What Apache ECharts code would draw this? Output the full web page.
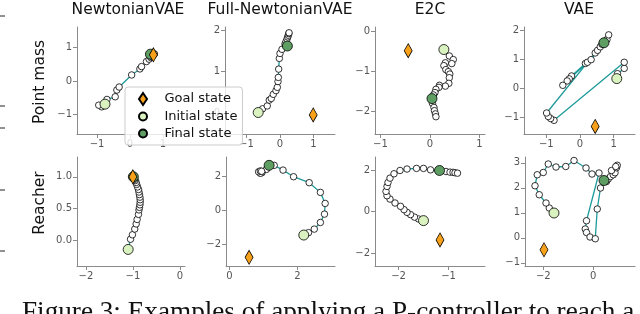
<!DOCTYPE html>
<html><head><meta charset="utf-8">
<script src="https://cdn.jsdelivr.net/npm/echarts@6/dist/echarts.min.js"></script>
<style>html,body{margin:0;padding:0;background:#fff}#c{width:640px;height:314px}</style>
</head><body><div id="c"></div>
<script>
// ---------- text ----------
const panelTitles = ['NewtonianVAE', 'Full-NewtonianVAE', 'E2C', 'VAE'];
const rowLabels = ['Point mass', 'Reacher'];
const legendNames = ['Goal state', 'Initial state', 'Final state'];
const captionText = 'Figure 3: Examples of applying a P-controller to reach a goal state.';

// ---------- Point mass ----------
const pmNewtonianTraj = [[-0.76,-0.69],[-0.86,-0.77],[-0.95,-0.72],[-0.70,-0.55],[-0.45,-0.47],[-0.40,-0.27],[-0.33,-0.18],[0.05,0.18],[0.30,0.36],[0.35,0.43],[0.50,0.58],[0.58,0.65],[0.63,0.70],[0.66,0.73],[0.68,0.75],[0.70,0.77],[0.72,0.79],[0.73,0.80],[0.74,0.81]];
const pmNewtonianGoal = [0.71, 0.78];
const pmNewtonianInit = [-0.76, -0.69];
const pmNewtonianFinal = [0.62, 0.80];
const pmNewtonianXTicks = [-1, 0, 1];
const pmNewtonianYTicks = [-1, 0, 1];

const pmFullTraj = [[-0.65,0.01],[-0.52,0.10],[-0.38,0.17],[-0.32,0.31],[-0.26,0.35],[-0.20,0.45],[-0.12,0.54],[-0.08,0.62],[-0.06,0.76],[-0.05,0.86],[-0.04,1.06],[-0.02,1.32],[0.00,1.44],[0.06,1.54],[0.15,1.67],[0.18,1.73],[0.21,1.79],[0.23,1.84],[0.25,1.88],[0.26,1.92],[0.27,1.94]];
const pmFullGoal = [0.99, -0.05];
const pmFullInit = [-0.65, 0.01];
const pmFullFinal = [0.22, 1.62];
const pmFullXTicks = [-1, 0, 1];
const pmFullYTicks = [0, 1, 2];

const pmE2cTraj = [[0.28,-0.46],[0.39,-0.62],[0.47,-0.71],[0.44,-0.81],[0.31,-0.79],[0.28,-0.86],[0.32,-0.96],[0.37,-1.01],[0.40,-1.07],[0.39,-1.16],[0.38,-1.30],[0.31,-1.37],[0.19,-1.35],[0.18,-1.40],[0.12,-1.45],[0.10,-1.53],[0.07,-1.59],[0.05,-1.68],[0.05,-1.80],[0.08,-1.90],[0.09,-1.98],[0.11,-2.06],[0.12,-2.13]];
const pmE2cGoal = [-0.44, -0.49];
const pmE2cInit = [0.28, -0.46];
const pmE2cFinal = [0.04, -1.68];
const pmE2cXTicks = [-1, 0, 1];
const pmE2cYTicks = [-2, -1, 0];

const pmVaeTraj = [[1.09,0.33],[1.11,0.50],[1.31,0.68],[1.31,0.89],[-0.77,-1.10],[-0.87,-1.04],[-0.94,-0.97],[-0.99,-0.85],[0.45,1.21],[0.16,0.85],[-0.25,0.42],[-0.32,0.32],[-0.38,0.25],[-0.51,0.10],[0.22,0.89],[0.33,0.98],[0.52,1.30],[0.60,1.42],[0.65,1.51],[0.80,1.67],[0.85,1.83]];
const pmVaeGoal = [0.45, -1.31];
const pmVaeInit = [1.09, 0.33];
const pmVaeFinal = [0.71, 1.56];
const pmVaeXTicks = [-1, 0, 1];
const pmVaeYTicks = [-1, 0, 1, 2];

// ---------- Reacher ----------
const reNewtonianTraj = [[-1.10,-0.14],[-1.05,0.02],[-1.01,0.09],[-0.96,0.18],[-0.93,0.26],[-0.91,0.33],[-0.88,0.41],[-0.87,0.48],[-0.86,0.52],[-0.85,0.56],[-0.845,0.60],[-0.845,0.64],[-0.85,0.68],[-0.86,0.72],[-0.87,0.76],[-0.88,0.80],[-0.90,0.84],[-0.92,0.88],[-0.93,0.91],[-0.95,0.94],[-0.96,0.96],[-0.97,0.98]];
const reNewtonianGoal = [-1.00, 1.00];
const reNewtonianInit = [-1.10, -0.14];
const reNewtonianFinal = [-0.99, 1.00];
const reNewtonianXTicks = [-2, -1, 0];
const reNewtonianYTicks = [0, 0.5, 1.0];

const reFullTraj = [[2.19,-1.47],[2.33,-1.33],[2.50,-1.12],[2.68,-0.73],[2.80,-0.24],[2.82,0.39],[2.68,1.04],[2.35,1.61],[1.89,1.96],[1.58,2.35],[1.32,2.63],[1.09,2.39],[0.96,2.20],[0.91,2.16],[0.86,2.25],[0.91,2.30],[0.95,2.28]];
const reFullGoal = [0.58, -2.78];
const reFullInit = [2.19, -1.47];
const reFullFinal = [1.17, 2.63];
const reFullXTicks = [0, 2];
const reFullYTicks = [-2, 0, 2];

const reE2cTraj = [[-1.50,-0.43],[-1.60,-0.35],[-1.68,-0.26],[-1.76,-0.14],[-1.83,-0.03],[-1.89,0.10],[-1.96,0.26],[-2.07,0.42],[-2.17,0.61],[-2.23,0.77],[-2.25,0.98],[-2.23,1.22],[-2.21,1.41],[-2.17,1.62],[-2.09,1.83],[-1.97,1.99],[-1.83,2.06],[-1.64,2.09],[-1.50,2.09],[-1.36,2.02],[-1.18,1.99],[-1.05,1.94],[-0.97,1.91],[-0.91,1.90],[-0.87,1.88],[-0.82,1.86]];
const reE2cGoal = [-1.17, -1.36];
const reE2cInit = [-1.50, -0.43];
const reE2cFinal = [-1.18, 1.99];
const reE2cXTicks = [-2, -1];
const reE2cYTicks = [-2, 0, 2];

const reVaeTraj = [[-1.57,0.99],[-1.76,1.19],[-1.89,1.39],[-2.16,1.72],[-2.33,2.08],[-2.24,2.52],[-2.00,2.61],[-1.80,2.95],[-1.49,2.83],[-1.10,2.85],[-0.77,3.09],[-0.29,2.79],[-0.05,2.55],[0.23,2.59],[-0.27,0.68],[-0.32,0.35],[-0.27,0.21],[-0.13,0.03],[0.08,-0.04],[0.16,1.15],[0.29,1.99],[0.43,2.29],[0.53,2.25],[0.60,2.35],[0.69,2.45],[0.80,2.52],[0.87,2.60],[0.73,2.69],[0.93,2.80],[0.96,2.90],[0.90,2.85]];
const reVaeGoal = [-1.97, -0.48];
const reVaeInit = [-1.57, 0.99];
const reVaeFinal = [0.43, 2.29];
const reVaeXTicks = [-2, 0];
const reVaeYTicks = [-1, 0, 1, 2, 3];

// ---------- assembly ----------
const panels = [
  {traj: pmNewtonianTraj, goal: pmNewtonianGoal, init: pmNewtonianInit, fin: pmNewtonianFinal, xt: pmNewtonianXTicks, yt: pmNewtonianYTicks},
  {traj: pmFullTraj, goal: pmFullGoal, init: pmFullInit, fin: pmFullFinal, xt: pmFullXTicks, yt: pmFullYTicks},
  {traj: pmE2cTraj, goal: pmE2cGoal, init: pmE2cInit, fin: pmE2cFinal, xt: pmE2cXTicks, yt: pmE2cYTicks},
  {traj: pmVaeTraj, goal: pmVaeGoal, init: pmVaeInit, fin: pmVaeFinal, xt: pmVaeXTicks, yt: pmVaeYTicks},
  {traj: reNewtonianTraj, goal: reNewtonianGoal, init: reNewtonianInit, fin: reNewtonianFinal, xt: reNewtonianXTicks, yt: reNewtonianYTicks, yDec: 1},
  {traj: reFullTraj, goal: reFullGoal, init: reFullInit, fin: reFullFinal, xt: reFullXTicks, yt: reFullYTicks},
  {traj: reE2cTraj, goal: reE2cGoal, init: reE2cInit, fin: reE2cFinal, xt: reE2cXTicks, yt: reE2cYTicks},
  {traj: reVaeTraj, goal: reVaeGoal, init: reVaeInit, fin: reVaeFinal, xt: reVaeXTicks, yt: reVaeYTicks}
];

// layout (pixels) and visible axis ranges
const layout = [
  {left: 77, top: 27, width: 108, height: 107, xr: [-1.61, 1.67], yr: [-1.58, 1.61]},
  {left: 225, top: 27, width: 110, height: 107, xr: [-1.64, 1.64], yr: [-0.51, 2.08]},
  {left: 375, top: 27, width: 110, height: 107, xr: [-1.11, 1.11], yr: [-2.56, 0.10]},
  {left: 524, top: 27, width: 111, height: 107, xr: [-1.66, 1.63], yr: [-1.57, 2.10]},
  {left: 77, top: 157, width: 108, height: 109, xr: [-2.19, 0.11], yr: [-0.40, 1.31]},
  {left: 226, top: 157, width: 109, height: 109, xr: [-0.10, 3.11], yr: [-3.29, 3.12]},
  {left: 375, top: 157, width: 110, height: 109, xr: [-2.47, -0.27], yr: [-2.62, 2.64]},
  {left: 525, top: 157, width: 110, height: 109, xr: [-2.73, 1.67], yr: [-1.13, 3.23]}
];

const COL_LINE = '#1f9a9a', COL_GOAL = '#f7a11a', COL_INIT = '#d9f2c0', COL_FINAL = '#5f9e63';
const AX_COL = '#8a8a8a', LAB_COL = '#555';
const FONT = 'DejaVu Sans';

function fmt(dec) {
  return function (v) {
    const s = dec ? Math.abs(v).toFixed(dec) : String(Math.abs(Math.round(v)));
    return (v < 0 ? '\u2212' : '') + s;
  };
}
function axisCommon(ticks, dec) {
  return {
    type: 'value',
    axisLine: {show: true, onZero: false, lineStyle: {color: AX_COL, width: 1}},
    axisTick: {show: true, length: 4, lineStyle: {color: AX_COL}, customValues: ticks},
    axisLabel: {show: true, color: LAB_COL, fontSize: 10, fontFamily: FONT, margin: 5, customValues: ticks, formatter: fmt(dec)},
    splitLine: {show: false}
  };
}

const grid = [], xAxis = [], yAxis = [], series = [];
panels.forEach((p, i) => {
  const L = layout[i];
  grid.push({left: L.left, top: L.top, width: L.width, height: L.height, containLabel: false});
  xAxis.push(Object.assign(axisCommon(p.xt, 0), {gridIndex: i, min: L.xr[0], max: L.xr[1]}));
  yAxis.push(Object.assign(axisCommon(p.yt, p.yDec || 0), {gridIndex: i, min: L.yr[0], max: L.yr[1]}));
  series.push({
    type: 'line', xAxisIndex: i, yAxisIndex: i, data: p.traj, z: 2,
    symbol: 'circle', symbolSize: 6.5, showSymbol: true, showAllSymbol: true,
    lineStyle: {color: COL_LINE, width: 1.3},
    itemStyle: {color: '#fff', borderColor: '#000', borderWidth: 0.8},
    emphasis: {disabled: true}, animation: false
  });
  series.push({
    name: legendNames[1], type: 'scatter', xAxisIndex: i, yAxisIndex: i, data: [p.init], z: 3,
    symbol: 'circle', symbolSize: 10,
    itemStyle: {color: COL_INIT, borderColor: '#000', borderWidth: 0.8, opacity: 1},
    emphasis: {disabled: true}, animation: false
  });
  series.push({
    name: legendNames[2], type: 'scatter', xAxisIndex: i, yAxisIndex: i, data: [p.fin], z: 4,
    symbol: 'circle', symbolSize: 10,
    itemStyle: {color: COL_FINAL, borderColor: '#000', borderWidth: 0.8, opacity: 1},
    emphasis: {disabled: true}, animation: false
  });
  series.push({
    name: legendNames[0], type: 'scatter', xAxisIndex: i, yAxisIndex: i, data: [p.goal], z: 5,
    symbol: 'diamond', symbolSize: [8, 14],
    itemStyle: {color: COL_GOAL, borderColor: '#000', borderWidth: 0.8, opacity: 1},
    emphasis: {disabled: true}, animation: false
  });
});

const titleX = [128, 280, 430, 579];
const graphic = [];
panelTitles.forEach((t, i) => graphic.push({
  type: 'text', x: titleX[i], y: 10, z: 10,
  style: {text: t, font: '15.5px "DejaVu Sans"', fill: '#111', align: 'center', verticalAlign: 'middle'}
}));
const rowY = [82, 203];
rowLabels.forEach((t, i) => graphic.push({
  type: 'text', x: 40, y: rowY[i], rotation: Math.PI / 2, z: 10,
  style: {text: t, font: '15.5px "DejaVu Sans"', fill: '#111', align: 'center', verticalAlign: 'middle'}
}));
graphic.push({
  type: 'text', x: 22, y: 299, z: 10,
  style: {text: captionText, font: '27.2px "Liberation Serif"', fill: '#111', align: 'left', verticalAlign: 'top'}
});
[16, 106, 128, 190, 251].forEach(y => graphic.push({
  type: 'line', z: 10, shape: {x1: 0, y1: y, x2: 5, y2: y}, style: {stroke: '#222', lineWidth: 1}
}));

const chart = echarts.init(document.getElementById('c'), null, {renderer: 'canvas'});
chart.setOption({
  animation: false,
  grid, xAxis, yAxis, series, graphic,
  legend: {
    show: true, left: 125, top: 87, orient: 'vertical',
    data: [{name: legendNames[0], icon: 'diamond'}, {name: legendNames[1], icon: 'circle'}, {name: legendNames[2], icon: 'circle'}],
    itemWidth: 8, itemHeight: 12, itemGap: 4,
    padding: [5, 5, 5, 13],
    backgroundColor: 'rgba(255,255,255,0.8)', borderColor: '#cccccc', borderWidth: 1, borderRadius: 3,
    textStyle: {fontSize: 13, color: '#111', fontFamily: FONT},
    formatter: n => '   ' + n,
    selectedMode: false, z: 20
  }
});
</script></body></html>
